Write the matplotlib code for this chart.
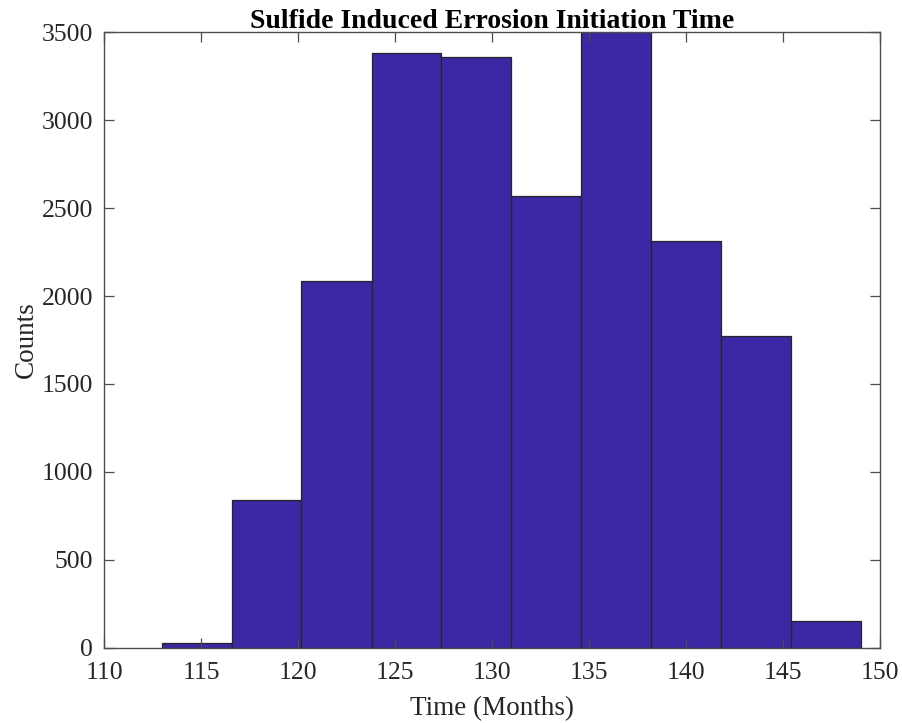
import numpy as np
import matplotlib
matplotlib.use("Agg")
import matplotlib.pyplot as plt

# Histogram bin edges (months) and counts per bin
bin_edges = [112.97, 116.58, 120.18, 123.79, 127.39, 131.00,
             134.60, 138.21, 141.81, 145.42, 149.02]
counts = [25, 840, 2087, 3381, 3361, 2569, 3620, 2315, 1774, 152]

x_ticks = [110, 115, 120, 125, 130, 135, 140, 145, 150]
y_ticks = [0, 500, 1000, 1500, 2000, 2500, 3000, 3500]

BAR_COLOR = "#3c27a4"
EDGE_COLOR = "#262626"
AXIS_COLOR = "#4d4d4d"

plt.rcParams["font.family"] = ["Liberation Serif", "DejaVu Serif"]

fig = plt.figure(figsize=(9.02, 7.23), dpi=100)
ax = fig.add_axes([0.1153, 0.1042, 0.8603, 0.8511])

edges = np.array(bin_edges)
ax.bar(edges[:-1], counts, width=np.diff(edges), align="edge",
       color=BAR_COLOR, edgecolor=EDGE_COLOR, linewidth=0.9)

ax.set_xlim(110, 150)
ax.set_ylim(0, 3500)
ax.set_xticks(x_ticks)
ax.set_yticks(y_ticks)

for s in ax.spines.values():
    s.set_color(AXIS_COLOR)
    s.set_linewidth(1.0)

ax.tick_params(direction="in", length=7, width=0.9, color=AXIS_COLOR,
               top=True, right=True, labelsize=18.5, labelcolor="#262626")
ax.tick_params(axis="x", pad=10)
ax.tick_params(axis="y", pad=8)

ax.set_xlabel("Time (Months)", fontsize=19.5, color="#262626", labelpad=9)
ax.set_ylabel("Counts", fontsize=19.5, color="#262626", labelpad=2)
ax.set_title("Sulfide Induced Errosion Initiation Time", fontsize=20,
             fontweight="bold", color="black", pad=3)

fig.savefig("out.png", dpi=100, facecolor="white")
